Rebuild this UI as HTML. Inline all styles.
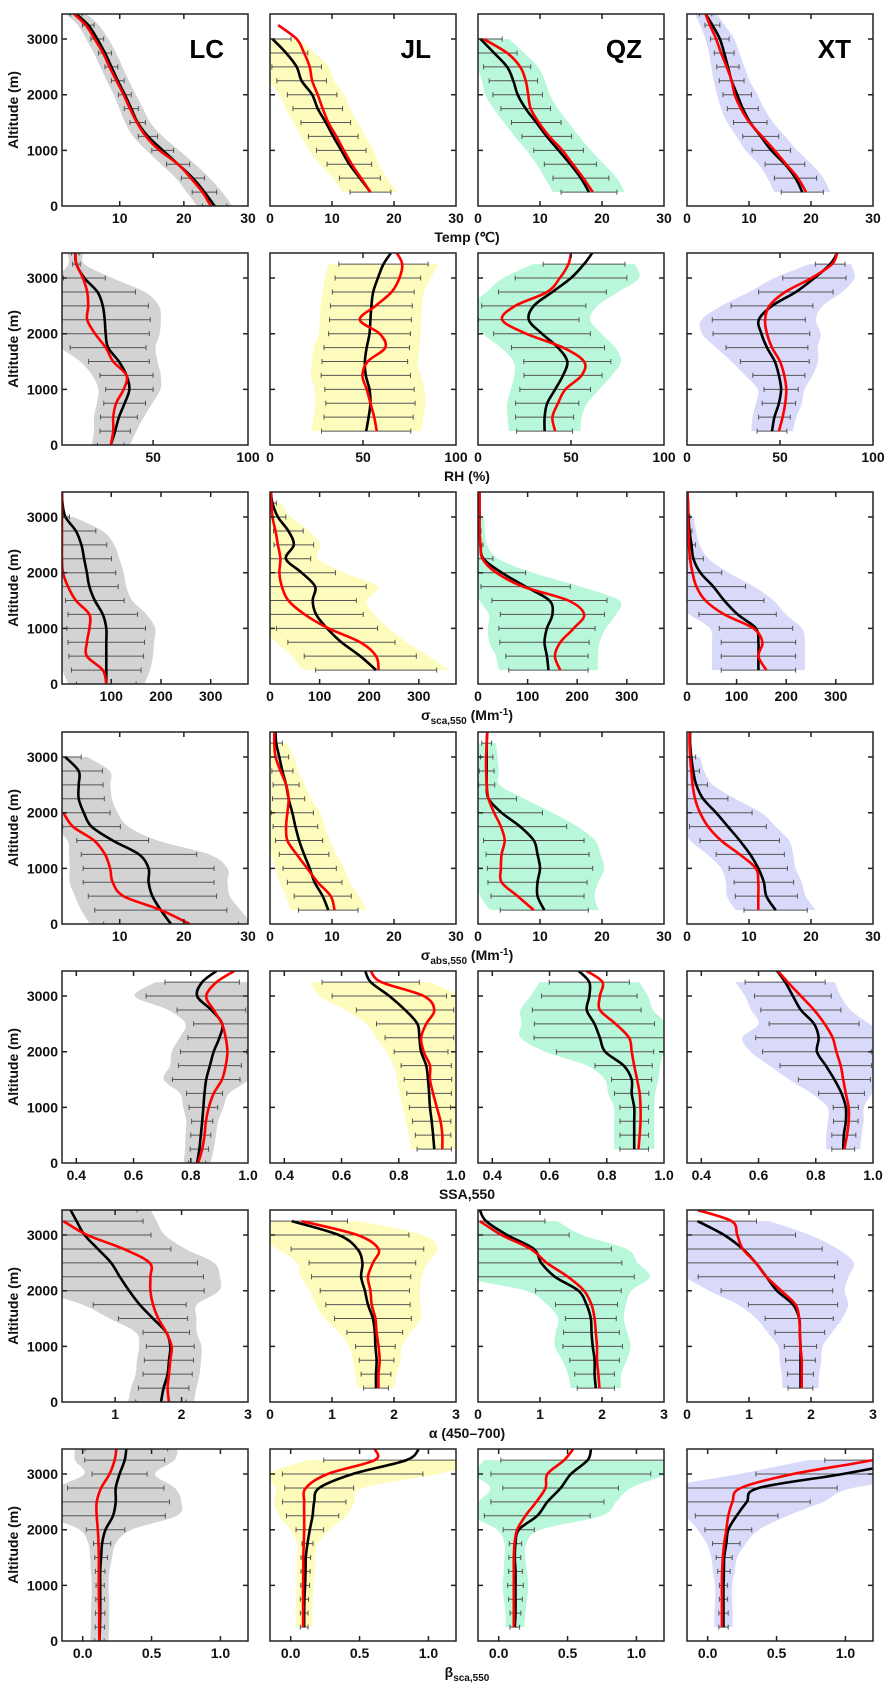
<!DOCTYPE html>
<html><head><meta charset="utf-8"><title>Vertical profiles</title>
<style>
html,body{margin:0;padding:0;background:#fff;}
svg{display:block;font-family:"Liberation Sans",Arial,sans-serif;}
.tk{font-size:14px;font-weight:bold;fill:#111;}
.ttl{font-size:14px;font-weight:bold;fill:#111;}
.site{font-size:26px;font-weight:bold;fill:#000;}
</style></head>
<body>
<svg id="fig" width="887" height="1688" viewBox="0 0 887 1688" xmlns="http://www.w3.org/2000/svg">
<defs id="defs"></defs>
<g id="plots"></g>
<text class="ttl" x="467" y="242" text-anchor="middle">Temp (℃)</text>
<text class="ttl" x="467" y="481" text-anchor="middle">RH (%)</text>
<text class="ttl" x="467" y="720" text-anchor="middle">σ<tspan font-size="10" dy="4">sca,550</tspan><tspan dy="-4"> (Mm</tspan><tspan font-size="10" dy="-5">-1</tspan><tspan dy="5">)</tspan></text>
<text class="ttl" x="467" y="960" text-anchor="middle">σ<tspan font-size="10" dy="4">abs,550</tspan><tspan dy="-4"> (Mm</tspan><tspan font-size="10" dy="-5">-1</tspan><tspan dy="5">)</tspan></text>
<text class="ttl" x="467" y="1199" text-anchor="middle">SSA,550</text>
<text class="ttl" x="467" y="1438" text-anchor="middle">α (450–700)</text>
<text class="ttl" x="467" y="1677" text-anchor="middle">β<tspan font-size="10" dy="4">sca,550</tspan></text>
<text class="site" x="224" y="58" text-anchor="end">LC</text>
<text class="site" x="431" y="58" text-anchor="end">JL</text>
<text class="site" x="642" y="58" text-anchor="end">QZ</text>
<text class="site" x="851" y="58" text-anchor="end">XT</text>
</svg>
<script>
const ALT = [0,250,500,750,1000,1250,1500,1750,2000,2250,2500,2750,3000,3250,3450];
const _ = null;
// Row 1 Temp
const T_LC_mean=[24.8,23.2,21.4,19.1,16.7,14.4,12.8,11.8,10.8,9.7,8.7,7.7,6.5,5.1,3.2];
const T_LC_med=[24.2,22.9,21.1,19.1,16.2,14.1,12.7,11.6,10.6,9.5,8.4,7.4,6.1,4.7,2.9];
const T_LC_sd=[1.9,1.9,1.8,1.8,1.7,1.5,1.2,1.1,1.0,1.0,1.0,1.0,1.0,0.9,0.9];
const T_JL_mean=[_,16.2,14.5,12.8,11.5,10.2,9,7.7,6.8,5.1,4.3,2.6,0.4,_,_];
const T_JL_med=[_,16.2,14.7,13.2,11.9,10.7,9.4,8.5,7.7,6.8,6.4,5.5,4.3,1.3,_];
const T_JL_sd=[_,3.3,3.3,3.6,4,4,4,4,4,4,4,3.5,3,_,_];
const T_QZ_mean=[_,17.9,16.6,14.9,13,11.1,9.4,7.7,6.4,5.7,4.7,2.6,0.4,_,_];
const T_QZ_med=[_,18.5,17,15.3,13.6,11.5,9.8,8.5,8.1,7.7,6.8,4.7,0.9,_,_];
const T_QZ_sd=[_,4.5,4.5,4.2,4,4,4,4,4,3.9,3.8,3.7,3.5,_,_];
const T_XT_mean=[_,18.6,17.5,15.8,13.6,11.9,10.2,9,8.1,7.2,6.6,6,5.3,4.1,3];
const T_XT_med=[_,19.2,17.9,16,14.1,12.1,10.1,8.7,7.7,7.2,6.4,5.5,4.7,3.7,3];
const T_XT_sd=[_,3.4,3.4,3.2,3.1,2.9,2.7,2.5,2.3,2,1.8,1.6,1.5,1.2,1];
// Row 2 RH
const RH_LC_mean=[27.7,30,32,35,37.5,36,32,26.3,25,24.5,23.5,20.7,13.8,9.6,9];
const RH_LC_med=[27.7,29,29,30.5,34.5,36,29,25,19.4,15.3,15.8,15.3,13,9.6,9];
const RH_LC_sd=[7,8,9.7,11,12.5,14,16,20,23,24,24,20,11,2,2];
const RH_JL_mean=[_,51.7,53,54,53.5,51.5,51,52,53.5,54,54.5,55.5,58,61,65];
const RH_JL_med=[_,57.4,56,54,52,49.7,52.5,62,59,48.3,56.8,65.4,69.6,71.1,68.2];
const RH_JL_sd=[_,24,24,24,24,24,23,23,22,22,22,22,23,24,_];
const RH_QZ_mean=[_,35.8,35.8,37.2,41.5,45.7,48,43,34.4,27.3,30,40,50,57,61.4];
const RH_QZ_med=[_,41.5,40,43,47,55.7,57,45.7,25.9,13,20,37.2,44,48.6,50];
const RH_QZ_sd=[_,15,15.6,17,19,21,23.4,25,26,27,28,29,30,22,_];
const RH_XT_mean=[_,45.7,47,49.4,50.6,49.4,47.2,43,40,38.6,45.7,58.5,68.5,77,80.7];
const RH_XT_med=[_,49.4,51.4,52.8,53.4,52.3,50,45.7,43,42,44.3,52.8,67,78,80.7];
const RH_XT_sd=[_,8,8.5,9,9.2,14,18.5,22,26,25,22,20,17,8,_];
// Row 3 scattering
const SCA_LC_mean=[90,90,90,90,90,83,67,56,51,45.5,40,29,8,2,1];
const SCA_LC_med=[90,83,51,51,56,56,29,13,3,1,1,1,1,1,1];
const SCA_LC_sd=[60,70,75,77,79,70,59,58,58,55,51,40,8,_,_];
const SCA_JL_mean=[_,214,182,144,115,93,86,91,64,32,48,37,16,5,2];
const SCA_JL_med=[_,219,214,182,118,70,37,24,19,21,16,11,5,3,2];
const SCA_JL_sd=[_,122,113,108,102,95,88,103,68,50,40,30,16,8,_];
const SCA_QZ_mean=[_,142,139,134,139,150,144,96,48,11,5,3,3,3,3];
const SCA_QZ_med=[_,166,155,166,193,214,182,91,37,9,5,3,3,3,3];
const SCA_QZ_sd=[_,80,83,90,97,105,116,90,48,19,5,3,2,_,_];
const SCA_XT_mean=[_,144,144,144,139,102,75,53,27,13,9,5,3,2,1];
const SCA_XT_med=[_,160,144,152,134,75,37,19,11,6,4,3,2,2,1];
const SCA_XT_sd=[_,75,75,75,74,78,80,65,43,20,8,5,3,_,_];
// Row 4 absorption
const ABS_LC_mean=[18,16.4,15.1,14.5,14.5,13,8.9,5.6,4.4,3.6,3.6,3.6,1.5,_,_];
const ABS_LC_med=[20.9,16.4,10.6,8.9,8.5,7.7,6,2.7,1.2,_,_,_,_,_,_];
const ABS_LC_sd=[10.5,10.3,10,10.2,10.2,9,5.6,4.5,4.1,4,3.8,3.7,2.5,_,_];
const ABS_JL_mean=[_,9.4,8.5,7.2,6.4,5.5,4.7,4.1,3.6,3,2.6,2,1.5,1,0.9];
const ABS_JL_med=[_,10.4,9.8,7.7,6,4.3,2.8,2.6,2.8,3,2.6,1.7,0.9,0.7,0.7];
const ABS_JL_sd=[_,4.8,4.6,4.4,4.3,4,3.8,3.6,3.4,2.6,2.1,1.7,1.5,1,_];
const ABS_QZ_mean=[_,10.7,9.6,9.6,10,9.6,9,6.8,3.8,1.7,1.4,1.4,1.4,1.4,1.5];
const ABS_QZ_med=[_,9,6.4,3.8,3.7,3.8,4.3,3.7,2.6,1.7,1.4,1.3,1.3,1.4,1.5];
const ABS_QZ_sd=[_,7.1,7.5,8,8.5,8.3,8.1,7.5,6.6,4.5,1.3,1.2,1,0.8,_];
const ABS_XT_mean=[_,14.3,12.8,12.4,11.5,10.2,8.5,6.6,4.7,2.6,1.5,1,0.7,0.5,0.5];
const ABS_XT_med=[_,11.5,11.5,11.5,11.1,8.5,5.5,3.4,2.1,1.3,0.9,0.7,0.5,0.4,0.4];
const ABS_XT_sd=[_,5.1,5,4.8,4.7,5.5,6.4,6.2,5.8,4,1.8,1,0.7,_,_];
// Row 5 SSA
const SSA_LC_mean=[0.822,0.83,0.835,0.84,0.844,0.848,0.854,0.867,0.88,0.9,0.91,0.872,0.822,0.84,0.89];
const SSA_LC_med=[0.826,0.84,0.848,0.853,0.863,0.88,0.909,0.922,0.928,0.922,0.909,0.88,0.854,0.89,0.952];
const SSA_LC_sd=[0.03,0.032,0.035,0.037,0.05,0.063,0.118,0.11,0.116,0.11,0.1,0.12,0.178,0.13,_];
const SSA_JL_mean=[_,0.924,0.92,0.915,0.909,0.906,0.902,0.896,0.878,0.872,0.865,0.822,0.767,0.702,0.683];
const SSA_JL_med=[_,0.952,0.952,0.946,0.933,0.92,0.909,0.909,0.887,0.878,0.896,0.924,0.887,0.739,0.702];
const SSA_JL_sd=[_,0.06,0.062,0.067,0.072,0.078,0.083,0.088,0.094,0.12,0.143,0.17,0.2,0.17,_];
const SSA_QZ_mean=[_,0.896,0.896,0.896,0.896,0.887,0.887,0.859,0.794,0.776,0.757,0.73,0.739,0.739,0.702];
const SSA_QZ_med=[_,0.911,0.915,0.918,0.918,0.915,0.906,0.896,0.887,0.878,0.831,0.776,0.776,0.785,0.73];
const SSA_QZ_sd=[_,0.05,0.05,0.05,0.05,0.06,0.07,0.1,0.17,0.23,0.21,0.19,0.167,0.14,_];
const SSA_XT_mean=[_,0.896,0.898,0.905,0.905,0.89,0.865,0.835,0.804,0.81,0.794,0.748,0.72,0.693,0.665];
const SSA_XT_med=[_,0.9,0.909,0.915,0.915,0.905,0.896,0.887,0.872,0.859,0.831,0.794,0.748,0.702,0.668];
const SSA_XT_sd=[_,0.04,0.042,0.043,0.044,0.08,0.126,0.16,0.19,0.22,0.157,0.14,0.134,0.14,_];
// Row 6 Angstrom exponent
const AE_LC_mean=[1.69,1.73,1.79,1.81,1.83,1.77,1.57,1.37,1.21,1.07,0.94,0.74,0.54,0.42,0.33];
const AE_LC_med=[1.81,1.79,1.81,1.83,1.85,1.77,1.65,1.57,1.53,1.53,1.52,1.13,0.58,0.22,_];
const AE_LC_sd=[0.38,0.38,0.37,0.37,0.36,0.35,0.52,0.7,1.13,1.26,1.3,1.1,1.0,1.0,1.0];
const AE_JL_mean=[_,1.71,1.71,1.72,1.7,1.69,1.66,1.58,1.53,1.47,1.49,1.41,1.11,0.35,_];
const AE_JL_med=[_,1.75,1.75,1.77,1.75,1.72,1.7,1.64,1.62,1.58,1.66,1.75,1.41,0.51,_];
const AE_JL_sd=[_,0.2,0.24,0.28,0.32,0.45,0.62,0.68,0.72,0.8,0.86,1.07,1.13,0.9,_];
const AE_QZ_mean=[_,1.9,1.88,1.88,1.85,1.83,1.82,1.75,1.62,1.24,1.02,0.9,0.47,0.13,0.03];
const AE_QZ_med=[_,1.96,1.94,1.92,1.92,1.9,1.88,1.83,1.71,1.45,1.11,0.85,0.38,0.03,_];
const AE_QZ_sd=[_,0.3,0.32,0.4,0.48,0.45,0.41,0.5,0.69,1.28,1.3,1.25,1.0,0.95,_];
const AE_XT_mean=[_,1.83,1.83,1.83,1.83,1.82,1.81,1.71,1.45,1.28,1.11,0.9,0.6,0.17,_];
const AE_XT_med=[_,1.85,1.85,1.85,1.83,1.82,1.81,1.75,1.52,1.28,1.11,0.9,0.81,0.72,0.17];
const AE_XT_sd=[_,0.2,0.21,0.24,0.26,0.4,0.55,0.72,0.9,1.1,1.32,1.28,1.15,0.95,_];
// Row 7 backscatter fraction
const B_LC_mean=[0.122,0.125,0.127,0.127,0.127,0.127,0.134,0.141,0.166,0.22,0.24,0.24,0.268,0.305,0.317];
const B_LC_med=[0.122,0.12,0.12,0.118,0.117,0.117,0.117,0.115,0.11,0.102,0.102,0.134,0.195,0.232,0.244];
const B_LC_sd=[0.034,0.034,0.034,0.032,0.03,0.035,0.046,0.063,0.14,0.38,0.39,0.35,0.2,0.29,0.3];
const B_JL_mean=[_,0.098,0.098,0.1,0.105,0.108,0.11,0.122,0.139,0.159,0.171,0.207,0.45,0.84,0.93];
const B_JL_med=[_,0.09,0.09,0.09,0.09,0.092,0.092,0.095,0.098,0.098,0.098,0.11,0.268,0.61,0.61];
const B_JL_sd=[_,0.028,0.028,0.03,0.032,0.033,0.035,0.04,0.1,0.19,0.23,0.25,0.51,0.6,_];
const B_QZ_mean=[_,0.117,0.122,0.122,0.122,0.122,0.117,0.122,0.146,0.28,0.354,0.45,0.524,0.646,0.67];
const B_QZ_med=[_,0.11,0.11,0.11,0.11,0.11,0.11,0.115,0.134,0.195,0.273,0.34,0.354,0.476,0.541];
const B_QZ_sd=[_,0.035,0.039,0.05,0.057,0.05,0.043,0.045,0.113,0.384,0.41,0.42,0.58,0.63,_];
const B_XT_mean=[_,0.115,0.115,0.115,0.115,0.118,0.12,0.135,0.15,0.21,0.284,0.37,0.98,1.5,1.8];
const B_XT_med=[_,0.103,0.103,0.103,0.103,0.105,0.11,0.12,0.135,0.15,0.18,0.24,0.62,1.2,1.5];
const B_XT_sd=[_,0.034,0.034,0.03,0.03,0.045,0.058,0.1,0.17,0.3,0.46,0.57,0.63,0.65,_];

const Y_TICKS=[0,1000,2000,3000];
const SITES=['lc','jl','qz','xt'];
const ROWS=[
 {key:'temp',dom:[[1,30],[0,30],[0,30],[0,30]],ticks:[10,20,30],ticks0:[0,10,20,30],fmt:v=>String(v),
  series:[[T_LC_mean,T_LC_med,T_LC_sd],[T_JL_mean,T_JL_med,T_JL_sd],[T_QZ_mean,T_QZ_med,T_QZ_sd],[T_XT_mean,T_XT_med,T_XT_sd]]},
 {key:'rh',dom:[[2,100],[0,100],[0,100],[0,100]],ticks:[50,100],ticks0:[0,50,100],fmt:v=>String(v),
  series:[[RH_LC_mean,RH_LC_med,RH_LC_sd],[RH_JL_mean,RH_JL_med,RH_JL_sd],[RH_QZ_mean,RH_QZ_med,RH_QZ_sd],[RH_XT_mean,RH_XT_med,RH_XT_sd]]},
 {key:'sca',dom:[[1,375],[0,375],[0,375],[0,375]],ticks:[100,200,300],ticks0:[0,100,200,300],fmt:v=>String(v),
  series:[[SCA_LC_mean,SCA_LC_med,SCA_LC_sd],[SCA_JL_mean,SCA_JL_med,SCA_JL_sd],[SCA_QZ_mean,SCA_QZ_med,SCA_QZ_sd],[SCA_XT_mean,SCA_XT_med,SCA_XT_sd]]},
 {key:'abs',dom:[[1,30],[0,30],[0,30],[0,30]],ticks:[10,20,30],ticks0:[0,10,20,30],fmt:v=>String(v),
  series:[[ABS_LC_mean,ABS_LC_med,ABS_LC_sd],[ABS_JL_mean,ABS_JL_med,ABS_JL_sd],[ABS_QZ_mean,ABS_QZ_med,ABS_QZ_sd],[ABS_XT_mean,ABS_XT_med,ABS_XT_sd]]},
 {key:'ssa',dom:[[0.35,1],[0.35,1],[0.35,1],[0.35,1]],ticks:[0.4,0.6,0.8,1.0],ticks0:[0.4,0.6,0.8,1.0],fmt:v=>v.toFixed(1),
  series:[[SSA_LC_mean,SSA_LC_med,SSA_LC_sd],[SSA_JL_mean,SSA_JL_med,SSA_JL_sd],[SSA_QZ_mean,SSA_QZ_med,SSA_QZ_sd],[SSA_XT_mean,SSA_XT_med,SSA_XT_sd]]},
 {key:'alpha',dom:[[0.2,3],[0,3],[0,3],[0,3]],ticks:[1,2,3],ticks0:[0,1,2,3],fmt:v=>String(v),
  series:[[AE_LC_mean,AE_LC_med,AE_LC_sd],[AE_JL_mean,AE_JL_med,AE_JL_sd],[AE_QZ_mean,AE_QZ_med,AE_QZ_sd],[AE_XT_mean,AE_XT_med,AE_XT_sd]]},
 {key:'beta',dom:[[-0.15,1.2],[-0.15,1.2],[-0.15,1.2],[-0.15,1.2]],ticks:[0,0.5,1.0],ticks0:[0,0.5,1.0],fmt:v=>v.toFixed(1),
  series:[[B_LC_mean,B_LC_med,B_LC_sd],[B_JL_mean,B_JL_med,B_JL_sd],[B_QZ_mean,B_QZ_med,B_QZ_sd],[B_XT_mean,B_XT_med,B_XT_sd]]}
];
const COL_X=[62,270,478,687], PW=186, ROW_Y=[14,253,492,732,971,1210,1449], PH=192, AMAX=3450;
const BAND=['#d3d3d3','#fdfcbc','#b9f7da','#d9daf9'];
const NS='http://www.w3.org/2000/svg';
function mk(tag,attrs,parent){const e=document.createElementNS(NS,tag);for(const k in attrs)e.setAttribute(k,attrs[k]);parent.appendChild(e);return e;}
function smooth(p){
  if(p.length<2)return '';
  let d='M'+p[0][0].toFixed(1)+','+p[0][1].toFixed(1);
  for(let i=0;i<p.length-1;i++){
    const p0=p[i-1]||p[i],p1=p[i],p2=p[i+1],p3=p[i+2]||p2;
    const c1=[p1[0]+(p2[0]-p0[0])/6,p1[1]+(p2[1]-p0[1])/6];
    const c2=[p2[0]-(p3[0]-p1[0])/6,p2[1]-(p3[1]-p1[1])/6];
    d+='C'+c1[0].toFixed(1)+','+c1[1].toFixed(1)+' '+c2[0].toFixed(1)+','+c2[1].toFixed(1)+' '+p2[0].toFixed(1)+','+p2[1].toFixed(1);
  }
  return d;
}
function segs(vals,xs,ys){const out=[];let cur=[];vals.forEach((v,i)=>{if(v==null){if(cur.length)out.push(cur);cur=[];}else cur.push([xs(v),ys(ALT[i])]);});if(cur.length)out.push(cur);return out;}
const root=document.getElementById('plots'), defs=document.getElementById('defs');
ROWS.forEach((row,r)=>{
  const top=ROW_Y[r], bot=top+PH;
  const ys=a=>bot-a/AMAX*PH;
  for(let c=0;c<4;c++){
    const left=COL_X[c], right=left+PW, dom=row.dom[c];
    const xs=v=>left+(v-dom[0])/(dom[1]-dom[0])*PW;
    const [mean,med,sd]=row.series[c];
    const cp=mk('clipPath',{id:'cp'+r+c},defs);
    mk('rect',{x:left,y:top,width:PW,height:PH},cp);
    const g=mk('g',{},root);
    
    
    const pg=mk('g',{'clip-path':'url(#cp'+r+c+')'},g);
    const pad=0.02*(dom[1]-dom[0]);
    const lo=mean.map((m,i)=>(m==null||sd[i]==null)?null:m-sd[i]*1.15-pad);
    const hi=mean.map((m,i)=>(m==null||sd[i]==null)?null:m+sd[i]*1.15+pad);
    const lS=segs(lo,xs,ys), hS=segs(hi,xs,ys);
    lS.forEach((ls,k)=>{
      const hs=hS[k].slice().reverse();
      const d=smooth(ls)+'L'+smooth(hs).slice(1)+'Z';
      const band=mk('path',{d:d,fill:BAND[c],stroke:'none'},pg);
      
      
    });
    mean.forEach((m,i)=>{
      if(m==null||sd[i]==null)return;
      const y=ys(ALT[i]), x1=xs(m-sd[i]), x2=xs(m+sd[i]);
      const eb=mk('path',{d:'M'+x1+','+y+'H'+x2+'M'+x1+','+(y-2.5)+'V'+(y+2.5)+'M'+x2+','+(y-2.5)+'V'+(y+2.5),stroke:'#555',"stroke-width":1,fill:'none'},pg);
      
      
    });
    segs(mean,xs,ys).forEach(s=>{
      const ln=mk('path',{d:smooth(s),stroke:'#000','stroke-width':2.6,fill:'none','stroke-linejoin':'round'},pg);
      
      
    });
    segs(med,xs,ys).forEach(s=>{
      const ln=mk('path',{d:smooth(s),stroke:'#ff0000','stroke-width':2.6,fill:'none','stroke-linejoin':'round'},pg);
      
      
    });
    const fr=mk('rect',{x:left,y:top,width:PW,height:PH,fill:'none',stroke:'#222','stroke-width':1.5},g);
    
    
    let td='';
    row.ticks0.forEach(t=>{const x=xs(t);if(x<left+1||x>right-1)return;td+='M'+x+','+bot+'v-5M'+x+','+top+'v5';});
    Y_TICKS.forEach(a=>{const y=ys(a);if(a===0)return;td+='M'+left+','+y+'h5M'+right+','+y+'h-5';});
    const tk=mk('path',{d:td,stroke:'#222','stroke-width':1.5,fill:'none'},g);
    
    
    const labs=(c===0)?row.ticks:row.ticks0;
    labs.forEach(t=>{
      const tx=mk('text',{x:xs(t),y:bot+17,'text-anchor':'middle',class:'tk'},g);
      tx.textContent=row.fmt(t);
      
      
    });
    if(c===0){
      Y_TICKS.forEach(a=>{
        const tx=mk('text',{x:left-4,y:ys(a)+5,'text-anchor':'end',class:'tk'},g);
        tx.textContent=String(a);
        
        
      });
      const yl=mk('text',{x:0,y:0,transform:'translate(18,'+(top+PH/2)+') rotate(-90)','text-anchor':'middle',class:'ttl'},g);
      yl.textContent='Altitude (m)';
      
      
    }
  }
});
</script>
</body></html>
